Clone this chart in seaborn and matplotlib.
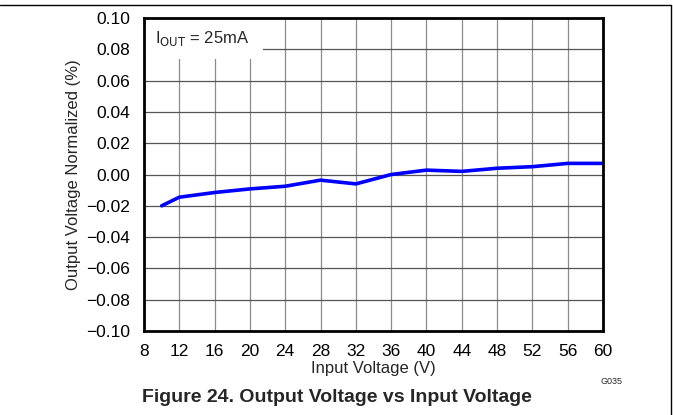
import numpy as np
import pandas as pd
import matplotlib
matplotlib.use('Agg')
import matplotlib.pyplot as plt
from matplotlib.lines import Line2D
from matplotlib.patches import Rectangle
import seaborn as sns

# values
vin = [10, 12, 16, 20, 24, 28, 32, 36, 40, 44, 48, 52, 56, 60]
vout_norm = [-0.0200, -0.0145, -0.0115, -0.0092, -0.0075, -0.0036, -0.0060,
             0.0000, 0.0028, 0.0020, 0.0040, 0.0050, 0.0071, 0.0071]
x_ticks = list(range(8, 61, 4))
y_ticks = [-0.10, -0.08, -0.06, -0.04, -0.02, 0.00, 0.02, 0.04, 0.06, 0.08, 0.10]

df = pd.DataFrame({'Vin': vin, 'Vout': vout_norm})

sns.set_style('white')
plt.rcParams['font.family'] = ['Liberation Sans', 'DejaVu Sans']
plt.rcParams['axes.unicode_minus'] = True

fig = plt.figure(figsize=(6.73, 4.15), dpi=100)
ax = fig.add_axes([0.214, 0.2024, 0.682, 0.7542])

sns.lineplot(data=df, x='Vin', y='Vout', color='#0000ff', linewidth=2.6, ax=ax, zorder=3)

ax.set_xlim(8, 60)
ax.set_ylim(-0.10, 0.10)
ax.set_xticks(x_ticks)
ax.set_yticks(y_ticks)
ax.set_yticklabels([f'{v:.2f}'.replace('-', '\u2212') for v in y_ticks])
ax.tick_params(axis='y', labelsize=12.5, length=0, pad=10, colors='black')
ax.tick_params(axis='x', labelsize=12.5, length=0, pad=9, colors='black')
ax.grid(True, axis='x', color='#8c8c8c', linewidth=0.9)
ax.grid(True, axis='y', color='#555555', linewidth=0.9)
for s in ax.spines.values():
    s.set_linewidth(2)
    s.set_color('black')
    s.set_zorder(6)

ax.set_xlabel('Input Voltage (V)', fontsize=12, labelpad=2)
ax.set_ylabel('Output Voltage Normalized (%)', fontsize=12, labelpad=4)

# white box behind the condition label, hiding the grid
ax.add_patch(Rectangle((8, 0.074), 13.5, 0.026, facecolor='white', edgecolor='none', zorder=4))
ax.text(9.3, 0.0868, r'I$_{\mathrm{OUT}}$ = 25mA', fontsize=12, va='center', ha='left', zorder=5)

fig.text(0.909, 0.080, 'G035', fontsize=6.5, ha='center', va='center')
fig.text(0.50, 0.041, 'Figure 24. Output Voltage vs Input Voltage', fontsize=14,
         fontweight='bold', ha='center', va='center')

# frame lines at the top and right edge
fig.add_artist(Line2D([0, 0.9975], [0.988, 0.988], transform=fig.transFigure, color='black', linewidth=1))
fig.add_artist(Line2D([0.9975, 0.9975], [0, 0.988], transform=fig.transFigure, color='black', linewidth=1))

fig.savefig('out.png', dpi=100)
